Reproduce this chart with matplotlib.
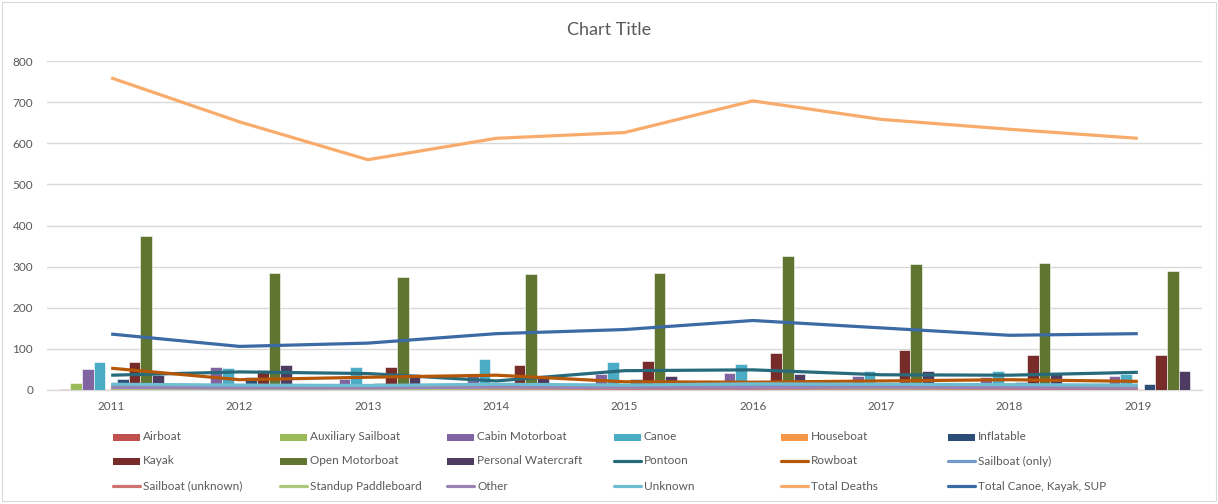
import matplotlib
matplotlib.use("Agg")
import matplotlib.pyplot as plt
from matplotlib.patches import Rectangle
from matplotlib.lines import Line2D
import numpy as np

plt.rcParams['font.family'] = ['Lato', 'DejaVu Sans']

years = ["2011", "2012", "2013", "2014", "2015", "2016", "2017", "2018", "2019"]

# Bar series
airboat            = [3, 2, 2, 2, 3, 2, 2, 3, 2]
auxiliary_sailboat = [16, 10, 10, 14, 12, 12, 10, 8, 8]
cabin_motorboat    = [50, 57, 26, 38, 38, 42, 34, 32, 35]
canoe              = [67, 53, 57, 75, 67, 63, 46, 46, 38]
houseboat          = [3, 3, 4, 3, 2, 3, 3, 2, 2]
inflatable         = [27, 31, 18, 15, 27, 14, 15, 20, 14]
kayak              = [67, 48, 57, 61, 71, 89, 97, 85, 85]
open_motorboat     = [375, 284, 274, 281, 285, 325, 307, 310, 289]
personal_watercraft = [37, 60, 40, 34, 35, 39, 46, 40, 46]

# Line series
pontoon            = [36, 44, 40, 22, 47, 49, 37, 36, 43]
rowboat            = [53, 25, 31, 36, 20, 19, 22, 25, 21]
sailboat_only      = [10, 8, 7, 9, 8, 10, 9, 8, 7]
sailboat_unknown   = [2, 2, 1, 2, 2, 2, 1, 2, 2]
standup_paddleboard = [4, 3, 3, 5, 6, 6, 5, 6, 8]
other              = [6, 5, 5, 7, 6, 6, 7, 6, 5]
unknown            = [14, 12, 11, 14, 12, 15, 14, 13, 12]
total_deaths       = [759, 652, 560, 612, 626, 703, 658, 634, 612]
total_canoe_kayak_sup = [136, 106, 114, 137, 147, 169, 151, 133, 137]

bar_names = ["Airboat", "Auxiliary Sailboat", "Cabin Motorboat", "Canoe", "Houseboat",
             "Inflatable", "Kayak", "Open Motorboat", "Personal Watercraft"]
bar_values = [airboat, auxiliary_sailboat, cabin_motorboat, canoe, houseboat,
              inflatable, kayak, open_motorboat, personal_watercraft]
bar_colors = ["#C0504D", "#9BBB59", "#8064A2", "#4BACC6", "#F79646",
              "#2C4D75", "#772C2A", "#5F7530", "#4D3B62"]

line_names = ["Pontoon", "Rowboat", "Sailboat (only)", "Sailboat (unknown)",
              "Standup Paddleboard", "Other", "Unknown", "Total Deaths",
              "Total Canoe, Kayak, SUP"]
line_values = [pontoon, rowboat, sailboat_only, sailboat_unknown,
               standup_paddleboard, other, unknown, total_deaths,
               total_canoe_kayak_sup]
line_colors = ["#276A7C", "#B65708", "#729ACA", "#CD7371", "#AFC97A",
               "#9983B5", "#6FBDD1", "#F9AB6B", "#3C6AA5"]

W, H = 1218, 504
fig = plt.figure(figsize=(W / 100, H / 100), dpi=100)
fig.patch.set_facecolor("white")

def fx(px):
    return px / W

def fy(py):
    return 1 - py / H

left, right, top, bottom = 47, 1202, 61, 390
ax = fig.add_axes([fx(left), fy(bottom), fx(right - left), (bottom - top) / H])

x = np.arange(len(years))
bw = 0.091
for j, (name, vals, col) in enumerate(zip(bar_names, bar_values, bar_colors)):
    ax.bar(x + (j - 4) * bw, vals, width=bw, color=col, edgecolor="white",
           linewidth=0.4, zorder=2, label=name)

for name, vals, col in zip(line_names, line_values, line_colors):
    ax.plot(x, vals, color=col, lw=2.3, zorder=3, solid_capstyle="butt", label=name)

ax.set_xlim(-0.5, len(years) - 0.5)
ax.set_ylim(0, 800)
ax.set_yticks(range(0, 801, 100))
ax.set_xticks(x)
ax.set_xticklabels(years)
ax.yaxis.grid(True, color="#D9D9D9", lw=1.0)
ax.set_axisbelow(True)
for s in ["top", "right", "left"]:
    ax.spines[s].set_visible(False)
ax.spines["bottom"].set_color("#D9D9D9")
ax.spines["bottom"].set_linewidth(1.0)
ax.spines["bottom"].set_zorder(1)
ax.tick_params(axis="both", length=0, colors="#595959", labelsize=8.5)
ax.tick_params(axis="y", pad=10)
ax.tick_params(axis="x", pad=8)

fig.text(0.5, fy(30), "Chart Title", ha="center", va="center",
         fontsize=13, color="#595959")

# Legend (manual grid, equal columns like Excel)
names_all = bar_names + line_names
colors_all = bar_colors + line_colors
rows_y = [437, 461, 486]
for i, (name, col) in enumerate(zip(names_all, colors_all)):
    r, c = divmod(i, 6)
    hx = 113 + 167 * c
    yc = rows_y[r]
    if i < len(bar_names):
        fig.add_artist(Rectangle((fx(hx), fy(yc + 3.5)), fx(27), 7 / H,
                                 transform=fig.transFigure, color=col, lw=0))
    else:
        fig.add_artist(Line2D([fx(hx), fx(hx + 27)], [fy(yc), fy(yc)],
                              transform=fig.transFigure, color=col, lw=2.3,
                              solid_capstyle="round"))
    fig.text(fx(hx + 30), fy(yc), name, ha="left", va="center",
             fontsize=8.5, color="#595959")

# chart border
fig.add_artist(Rectangle((fx(2), fy(501)), fx(1214), 499 / H, transform=fig.transFigure,
                         fill=False, edgecolor="#D9D9D9", lw=0.8))

fig.savefig("out.png", dpi=100)
